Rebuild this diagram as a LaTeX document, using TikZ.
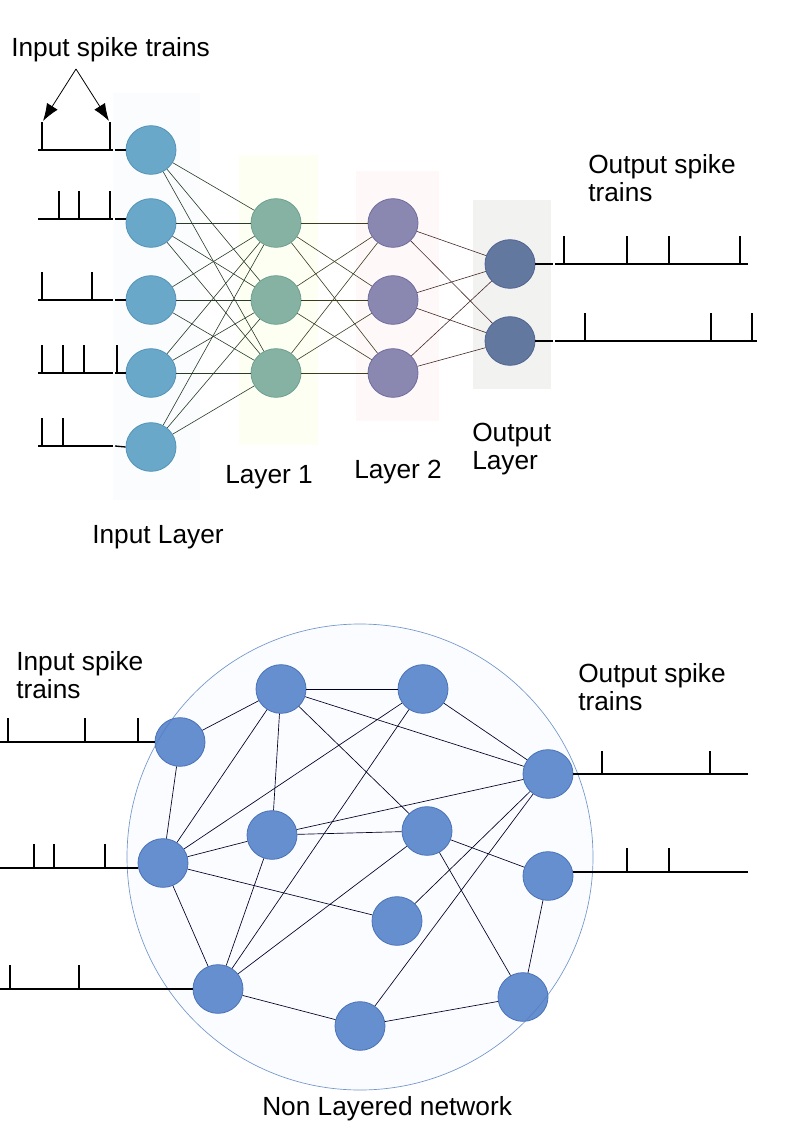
\documentclass[tikz,border=0pt]{standalone}
\usepackage{fontspec}
\setmainfont{Liberation Sans}
\usetikzlibrary{shapes.geometric,arrows.meta}
\definecolor{inFill}{RGB}{106,168,201}
\definecolor{inDraw}{RGB}{84,146,186}
\definecolor{lOneFill}{RGB}{134,178,163}
\definecolor{lOneDraw}{RGB}{110,160,145}
\definecolor{lTwoFill}{RGB}{138,136,176}
\definecolor{lTwoDraw}{RGB}{110,108,160}
\definecolor{outFill}{RGB}{99,120,158}
\definecolor{outDraw}{RGB}{80,100,145}
\definecolor{bnFill}{RGB}{102,143,208}
\definecolor{bnDraw}{RGB}{74,114,184}
\definecolor{bgIn}{RGB}{250,252,253}
\definecolor{bgOne}{RGB}{254,255,243}
\definecolor{bgTwo}{RGB}{255,248,248}
\definecolor{bgOut}{RGB}{242,242,241}
\definecolor{synA}{RGB}{40,60,40}
\definecolor{synB}{RGB}{60,60,30}
\definecolor{synC}{RGB}{70,40,40}
\definecolor{ringC}{RGB}{80,125,190}
\definecolor{ringFill}{RGB}{251,252,255}
\begin{document}
\begin{tikzpicture}[x=0.75pt,y=-0.75pt,
  neuron/.style={ellipse,minimum width=37.5pt,minimum height=36.5pt,inner sep=0pt,line width=0.6pt},
  inneu/.style={neuron,fill=inFill,draw=inDraw},
  onen/.style={neuron,fill=lOneFill,draw=lOneDraw},
  twon/.style={neuron,fill=lTwoFill,draw=lTwoDraw},
  outn/.style={neuron,fill=outFill,draw=outDraw},
  bnode/.style={neuron,fill=bnFill,draw=bnDraw},
  spk/.style={line width=1pt,black},
  synI/.style={line width=0.45pt,synA},
  synII/.style={line width=0.45pt,synB},
  synIII/.style={line width=0.45pt,synC},
  bedge/.style={line width=0.5pt,black!85!blue},
  lbl/.style={font=\fontsize{19.7}{21}\selectfont,inner sep=0pt,align=left},
  arr/.style={line width=0.6pt,-{Latex[length=13pt,width=9.5pt]}}
]
\useasboundingbox (0,0) rectangle (794,1123);
% backgrounds
\fill[bgIn] (113,93) rectangle (200,500);
\fill[bgOne] (239,155) rectangle (318,445);
\fill[bgTwo] (356,171) rectangle (439,421);
\fill[bgOut] (473,200) rectangle (551,389);

% top neurons
\node[inneu] (i1) at (151,150) {};
\node[inneu] (i2) at (151,223) {};
\node[inneu] (i3) at (151,300) {};
\node[inneu] (i4) at (151,373) {};
\node[inneu] (i5) at (151,447) {};
\node[onen] (a1) at (276,223) {};
\node[onen] (a2) at (276,300) {};
\node[onen] (a3) at (276,373) {};
\node[twon] (b1) at (393,223) {};
\node[twon] (b2) at (393,300) {};
\node[twon] (b3) at (393,373) {};
\node[outn] (o1) at (510,264) {};
\node[outn] (o2) at (510,341) {};

% synapses
\foreach \s in {i1,i2,i3,i4,i5}{\foreach \t in {a1,a2,a3}{\draw[synI] (\s) -- (\t);}}
\foreach \s in {a1,a2,a3}{\foreach \t in {b1,b2,b3}{\draw[synII] (\s) -- (\t);}}
\foreach \s in {b1,b2,b3}{\foreach \t in {o1,o2}{\draw[synIII] (\s) -- (\t);}}

% input spike trains (top)
\coordinate (r1a) at (38,150); \coordinate (r1b) at (113,150); \coordinate (r1c) at (115,150);
\coordinate (r2a) at (38,219); \coordinate (r2b) at (113,219); \coordinate (r2c) at (115,219); \coordinate (r2d) at (126,219);
\coordinate (r3a) at (38,300); \coordinate (r3b) at (113,300); \coordinate (r3c) at (115,300);
\coordinate (r4a) at (38,373); \coordinate (r4b) at (113,373); \coordinate (r4c) at (115,373);
\coordinate (r5a) at (38,446); \coordinate (r5b) at (113,446); \coordinate (r5c) at (115,446);
\draw[spk] (r1a) -- (r1b); \draw[spk] (r1c) -- (i1.west);
\draw[spk] (r2a) -- (r2b); \draw[spk] (r2c) -- (r2d);
\draw[spk] (r3a) -- (r3b); \draw[spk] (r3c) -- (i3.west);
\draw[spk] (r4a) -- (r4b); \draw[spk] (r4c) -- (i4.west);
\draw[spk] (r5a) -- (r5b); \draw[spk] (r5c) -- (i5.west);
\foreach \x in {42,110}{\draw[spk] (\x,150) -- ++(0,-28);}
\foreach \x in {59,79,110}{\draw[spk] (\x,219) -- ++(0,-28);}
\foreach \x in {42,92}{\draw[spk] (\x,300) -- ++(0,-28);}
\foreach \x in {42,63,84,117}{\draw[spk] (\x,373) -- ++(0,-28);}
\foreach \x in {42,63}{\draw[spk] (\x,446) -- ++(0,-28);}

% arrows
\coordinate (apex) at (76,69);
\coordinate (tipL) at (43,121);
\coordinate (tipR) at (109,121);
\draw[arr] (apex) -- (tipL);
\draw[arr] (apex) -- (tipR);

% output spike trains (top)
\coordinate (q1a) at (553,264); \coordinate (q1b) at (555,264); \coordinate (q1c) at (748,264);
\coordinate (q2a) at (553,341); \coordinate (q2b) at (555,341); \coordinate (q2c) at (757,341);
\draw[spk] (o1.east) -- (q1a); \draw[spk] (q1b) -- (q1c);
\draw[spk] (o2.east) -- (q2a); \draw[spk] (q2b) -- (q2c);
\foreach \x in {564,627,669,740}{\draw[spk] (\x,264) -- ++(0,-28);}
\foreach \x in {585,711,752}{\draw[spk] (\x,341) -- ++(0,-28);}

% labels top
\node[lbl,anchor=base west] (tInput) at (11,57) {Input spike trains};
\node[lbl,anchor=north west] (tOut) at (588,154) {Output spike\\trains};
\node[lbl,anchor=base west] (tL1) at (225,483) {Layer 1};
\node[lbl,anchor=base west] (tL2) at (354,478) {Layer 2};
\node[lbl,anchor=north west] (tOL) at (472,423) {Output\\Layer};
\node[lbl,anchor=base west] (tIL) at (92,543) {Input Layer};

% bottom network
\fill[ringFill] (360,857) circle[radius=233];
\node[bnode] (A) at (180,742) {};
\node[bnode] (B) at (281,689) {};
\node[bnode] (C) at (423,689) {};
\node[bnode] (D) at (548,774) {};
\node[bnode] (E) at (272,835) {};
\node[bnode] (F) at (163,863) {};
\node[bnode] (G) at (427,831) {};
\node[bnode] (H) at (548,876) {};
\node[bnode] (I) at (397,921) {};
\node[bnode] (J) at (218,989) {};
\node[bnode] (K) at (360,1026) {};
\node[bnode] (L) at (523,997) {};
\foreach \s/\t in {A/B,A/F,B/C,B/D,B/E,B/F,B/G,C/D,C/F,C/J,D/E,D/I,D/K,E/F,E/G,E/J,F/I,F/J,G/H,G/J,G/L,H/L,J/K,K/L}{\draw[bedge] (\s) -- (\t);}
\draw[ringC,line width=0.5pt,opacity=0.8] (360,857) circle[radius=233];

% bottom spike trains
\coordinate (s1a) at (0,742);
\coordinate (s2a) at (0,868); \coordinate (s2b) at (138,868);
\coordinate (s3a) at (0,989);
\draw[spk] (s1a) -- (A.west);
\draw[spk] (s2a) -- (s2b);
\draw[spk] (s3a) -- (J.west);
\foreach \x in {8,85,138}{\draw[spk] (\x,742) -- ++(0,-24);}
\foreach \x in {34,54,105}{\draw[spk] (\x,868) -- ++(0,-24);}
\foreach \x in {10,79}{\draw[spk] (\x,989) -- ++(0,-24);}
\coordinate (u1) at (748,774);
\coordinate (u2a) at (573,872); \coordinate (u2) at (748,872);
\draw[spk] (D.east) -- (u1);
\draw[spk] (u2a) -- (u2);
\foreach \x in {602,710}{\draw[spk] (\x,774) -- ++(0,-23);}
\foreach \x in {627,669}{\draw[spk] (\x,872) -- ++(0,-24);}

% labels bottom
\node[lbl,anchor=north west] (bIn) at (16,651) {Input spike\\trains};
\node[lbl,anchor=north west] (bOut) at (578,663) {Output spike\\trains};
\node[lbl,anchor=base west] (bNL) at (262,1115) {Non Layered network};
\end{tikzpicture}
\end{document}
